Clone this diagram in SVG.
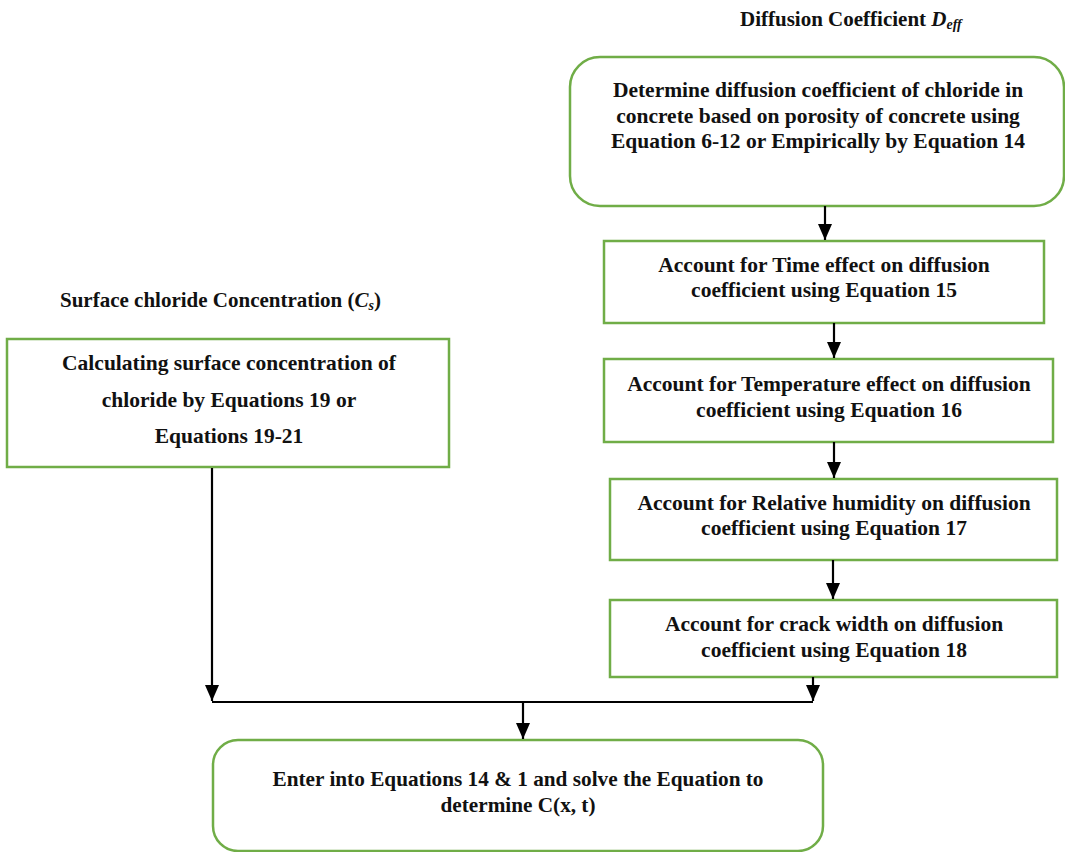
<svg xmlns="http://www.w3.org/2000/svg" width="1065" height="852" viewBox="0 0 1065 852">
  <defs>
    <marker id="arr" markerUnits="userSpaceOnUse" markerWidth="14" markerHeight="16" refX="7" refY="16" orient="0" viewBox="0 0 14 16">
      <path d="M0,0 L14,0 L7,16 z" fill="#000"/>
    </marker>
    <style>
      .box { fill: #fff; stroke: #70AD47; stroke-width: 2.5; }
      .t { font-family: "Liberation Serif", "Times New Roman", serif; font-weight: bold; font-size: 21.5px; fill: #111; text-anchor: middle; }
      .title { font-family: "Liberation Serif", "Times New Roman", serif; font-weight: bold; font-size: 21px; fill: #111; }
      .ln { stroke: #000; stroke-width: 2.2; fill: none; }
    </style>
  </defs>
  <rect width="1065" height="852" fill="#fff"/>

  <g id="title-deff">
    <text class="title" x="740" y="26">Diffusion Coefficient <tspan font-style="italic">D</tspan><tspan font-style="italic" font-size="14" dy="3">eff</tspan></text>
  </g>
  <g id="title-cs">
    <text class="title" x="60" y="307">Surface chloride Concentration (<tspan font-style="italic">C</tspan><tspan font-style="italic" font-size="14" dy="3">s</tspan><tspan dy="-3">)</tspan></text>
  </g>

  <g id="n1">
    <rect class="box" x="570" y="57" width="494" height="149" rx="30" ry="30"/>
    <text class="t" x="818" y="97">Determine diffusion coefficient of chloride in</text>
    <text class="t" x="818" y="123">concrete based on porosity of concrete using</text>
    <text class="t" x="818" y="148">Equation 6-12 or Empirically by Equation 14</text>
  </g>
  <g id="n2">
    <rect class="box" x="604" y="241" width="440" height="82"/>
    <text class="t" x="824" y="272">Account for Time effect on diffusion</text>
    <text class="t" x="824" y="297">coefficient using Equation 15</text>
  </g>
  <g id="n3">
    <rect class="box" x="604" y="359" width="449" height="83"/>
    <text class="t" x="829" y="391">Account for Temperature effect on diffusion</text>
    <text class="t" x="829" y="417">coefficient using Equation 16</text>
  </g>
  <g id="n4">
    <rect class="box" x="610" y="479" width="447" height="81"/>
    <text class="t" x="834" y="510">Account for Relative humidity on diffusion</text>
    <text class="t" x="834" y="535">coefficient using Equation 17</text>
  </g>
  <g id="n5">
    <rect class="box" x="610" y="600" width="447" height="77"/>
    <text class="t" x="834" y="631">Account for crack width on diffusion</text>
    <text class="t" x="834" y="657">coefficient using Equation 18</text>
  </g>
  <g id="n6">
    <rect class="box" x="7" y="339" width="442" height="128"/>
    <text class="t" x="229" y="370">Calculating surface concentration of</text>
    <text class="t" x="229" y="407">chloride by Equations 19 or</text>
    <text class="t" x="229" y="443">Equations 19-21</text>
  </g>
  <g id="n7">
    <rect class="box" x="213" y="740" width="610" height="111" rx="25" ry="25"/>
    <text class="t" x="518" y="786" textLength="491" lengthAdjust="spacingAndGlyphs">Enter into Equations 14 &amp; 1 and solve the Equation to</text>
    <text class="t" x="518" y="812" textLength="155" lengthAdjust="spacingAndGlyphs">determine C(x, t)</text>
  </g>

  <g id="connectors">
    <line class="ln" x1="825" y1="206" x2="825" y2="240" marker-end="url(#arr)"/>
    <line class="ln" x1="834" y1="323" x2="834" y2="358" marker-end="url(#arr)"/>
    <line class="ln" x1="834" y1="442" x2="834" y2="478" marker-end="url(#arr)"/>
    <line class="ln" x1="833" y1="560" x2="833" y2="599" marker-end="url(#arr)"/>
    <line class="ln" x1="212" y1="468" x2="212" y2="701" marker-end="url(#arr)"/>
    <line class="ln" x1="813" y1="677" x2="813" y2="701" marker-end="url(#arr)"/>
    <line class="ln" x1="212" y1="702" x2="813" y2="702"/>
    <line class="ln" x1="523" y1="702" x2="523" y2="739" marker-end="url(#arr)"/>
  </g>
</svg>
